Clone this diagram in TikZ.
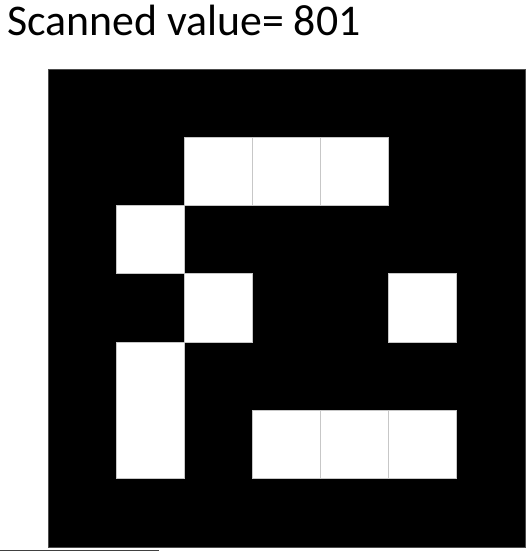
\documentclass[tikz,border=0pt]{standalone}
\usepackage{fontspec}
\setmainfont{Carlito}
\usetikzlibrary{positioning}
\tikzset{
    %Define style for the marker board
    board/.style={
           rectangle,
           fill=black,
           draw=black!70, line width=0.6pt,
           minimum width=477pt,
           minimum height=478pt,
           inner sep=0pt},
    %Define style for white cells
    cell/.style={
           rectangle,
           fill=white,
           draw=black!22, line width=0.9pt,
           minimum width=68.14pt,
           minimum height=68.29pt,
           inner sep=0pt},
    title/.style={
           anchor=base west,
           inner sep=0pt,
           font=\fontsize{43.8pt}{48pt}\selectfont}
}
\begin{document}
\begin{tikzpicture}[x=1pt,y=-1pt]
\useasboundingbox (0,0) rectangle (529,551);
\node[title](head) at (7,36){Scanned value= 801};
\node[board](marker) at (286.5,308){};
% white cells, column/row
\foreach \c/\r in {2/1,3/1,4/1,1/2,2/3,5/3,3/5,4/5,5/5}
  \node[cell](c\c r\r) at ({48+68.14*(\c+0.5)},{69+68.29*(\r+0.5)}){};
\node[cell, minimum height=136.58pt](c1r4) at ({48+68.14*1.5},{69+68.29*5}){};
\draw[black!75, line width=0.8pt] (0,550) -- (159,550);
\end{tikzpicture}
\end{document}
